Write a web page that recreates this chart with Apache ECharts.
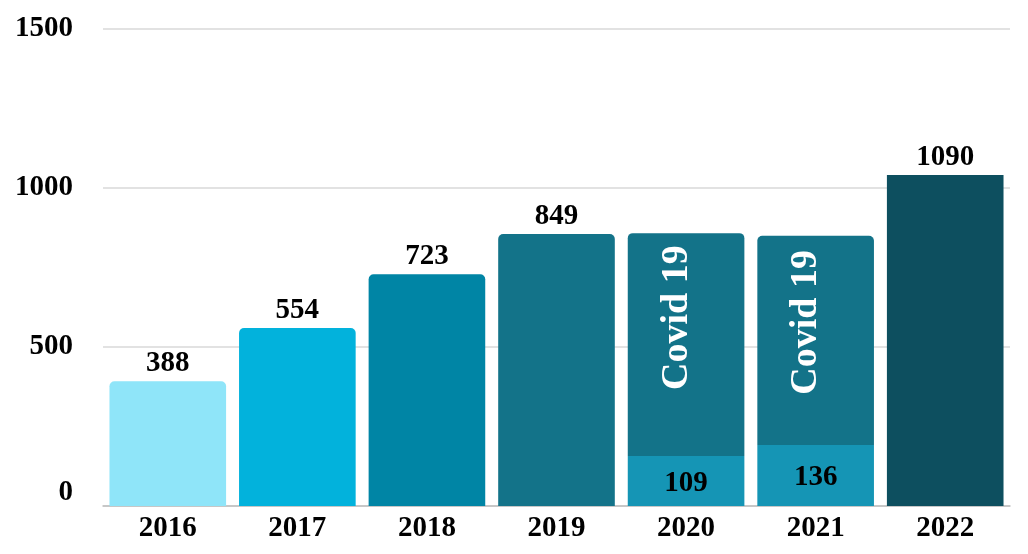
<!DOCTYPE html>
<html><head><meta charset="utf-8">
<script src="https://cdn.jsdelivr.net/npm/echarts@6/dist/echarts.min.js"></script>
<style>html,body{margin:0;padding:0;background:#fff}#c{width:1028px;height:554px}</style>
</head><body><div id="c"></div>
<script>
const years = ['2016','2017','2018','2019','2020','2021','2022'];
// bar heights as drawn in the picture
const baseHeights = [392, 560, 729, 855, 157, 192, 1041];
const covidHeights = [null, null, null, null, 701, 658, null];
// numbers printed on the bars
const baseLabels = ['388','554','723','849','109','136','1090'];
const covidLabel = 'Covid 19';
const yTicks = [0, 500, 1000, 1500];
const barColors = ['#8FE5F9','#02B2DC','#0085A5','#137389','#1595B5','#1595B5','#0D4F5F'];

const FONT = '"Liberation Serif","Times New Roman",serif';
const baseData = baseHeights.map((v, i) => {
  const inside = covidHeights[i] != null;
  return {
    value: v,
    itemStyle: {
      color: barColors[i],
      borderRadius: inside || i === 6 ? 0 : [5,5,0,0]
    },
    label: {
      show: true,
      position: inside ? 'inside' : 'top',
      distance: 3,
      offset: inside ? [0, 2] : [0, 0],
      formatter: baseLabels[i]
    }
  };
});
const covidData = covidHeights.map((v, i) => v == null ? '-' : ({
  value: v,
  label: { offset: [i === 4 ? 27 : 18, -9] }
}));

const labelStyle = { color: '#000', fontFamily: FONT, fontWeight: 'bold', fontSize: 29 };
const chart = echarts.init(document.getElementById('c'));
chart.setOption({
  animation: false,
  backgroundColor: '#fff',
  grid: { left: 103, right: 18, top: 29, bottom: 48 },
  xAxis: {
    type: 'category',
    data: years,
    axisTick: { show: false },
    axisLine: { lineStyle: { color: '#bfbfbf', width: 1.5 } },
    axisLabel: Object.assign({ margin: 8 }, labelStyle)
  },
  yAxis: {
    type: 'value',
    min: yTicks[0], max: yTicks[yTicks.length - 1], interval: 500,
    axisLine: { show: false },
    axisTick: { show: false },
    splitLine: { lineStyle: { color: '#d9d9d9', width: 1.5 } },
    axisLabel: Object.assign({
      margin: 30,
      formatter: v => v === 0 ? '{z|0}' : String(v),
      rich: { z: Object.assign({ padding: [0, 0, 26, 0] }, labelStyle) }
    }, labelStyle)
  },
  series: [
    {
      type: 'bar', stack: 'a', data: baseData, barCategoryGap: '10%',
      label: labelStyle
    },
    {
      type: 'bar', stack: 'a', data: covidData, barCategoryGap: '10%',
      itemStyle: { color: '#137389', borderRadius: [5,5,0,0] },
      label: {
        show: true, position: 'inside', rotate: 90, formatter: covidLabel,
        color: '#fff', fontFamily: FONT, fontWeight: 'bold', fontSize: 38
      }
    }
  ]
});
</script></body></html>
